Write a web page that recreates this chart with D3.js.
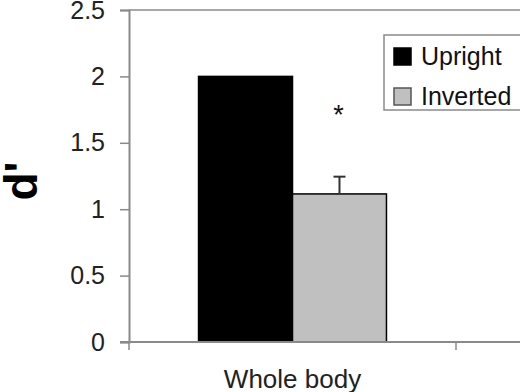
<!DOCTYPE html>
<html><head><meta charset="utf-8">
<script src="https://cdn.jsdelivr.net/npm/d3@7"></script>
<style>body{margin:0;background:#fff}svg{display:block}</style>
</head><body>
<script>
const categories = ["Whole body"];
const seriesNames = ["Upright", "Inverted"];
const upright = [2.0];
const inverted = [1.115];
const invertedErr = [0.13];
const yTicks = [0, 0.5, 1, 1.5, 2, 2.5];
const colors = ["#000000", "#c0c0c0"];

const W = 520, H = 392;
const FONT = "Liberation Sans, Arial, sans-serif";
const svg = d3.select("body").append("svg").attr("width", W).attr("height", H);
const x0 = 129, x1 = 456, yTop = 10, yBot = 342;
const y = d3.scaleLinear().domain([0, 2.5]).range([yBot, yTop]);
const x = d3.scaleBand().domain(categories).range([x0, x1]).paddingInner(0).paddingOuter(0);
const xs = d3.scaleBand().domain(seriesNames).range([0, x.bandwidth()]).paddingOuter(0.74).paddingInner(0);

// top border
svg.append("line").attr("x1", x0).attr("x2", W).attr("y1", y(2.5)).attr("y2", y(2.5))
  .attr("stroke", "#8a8a8a").attr("stroke-width", 1.5);

const yAxis = svg.append("g").attr("transform", `translate(${x0},0)`)
  .call(d3.axisLeft(y).tickValues(yTicks).tickSize(9).tickPadding(15).tickFormat(d3.format("")));
yAxis.select(".domain").attr("stroke", "#8a8a8a").attr("stroke-width", 2);
yAxis.selectAll(".tick line").attr("stroke", "#8a8a8a").attr("stroke-width", 1.5);
yAxis.selectAll("text").attr("font-family", FONT).attr("font-size", 25).attr("fill", "#222");

// bars
const data = [
  {s: "Upright", v: upright[0], c: categories[0]},
  {s: "Inverted", v: inverted[0], c: categories[0], e: invertedErr[0]}
];
svg.selectAll("rect.bar").data(data).enter().append("rect")
  .attr("x", d => x(d.c) + xs(d.s)).attr("width", xs.bandwidth())
  .attr("y", d => y(d.v)).attr("height", d => y(0) - y(d.v))
  .attr("fill", (d, i) => colors[i]).attr("stroke", "#000").attr("stroke-width", 1.5);

// error bar
data.filter(d => d.e).forEach(d => {
  const cx = x(d.c) + xs(d.s) + xs.bandwidth() / 2;
  svg.append("line").attr("x1", cx).attr("x2", cx).attr("y1", y(d.v)).attr("y2", y(d.v + d.e))
    .attr("stroke", "#333").attr("stroke-width", 2);
  svg.append("line").attr("x1", cx - 6).attr("x2", cx + 6).attr("y1", y(d.v + d.e)).attr("y2", y(d.v + d.e))
    .attr("stroke", "#333").attr("stroke-width", 2);
  svg.append("text").attr("x", cx - 1).attr("y", y(d.v) - 70).attr("text-anchor", "middle")
    .attr("font-family", FONT).attr("font-size", 27).attr("fill", "#111").text("*");
});

// x axis
const xAxis = svg.append("g").attr("transform", `translate(0,${yBot})`)
  .call(d3.axisBottom(x).tickSize(0).tickPadding(20));
xAxis.select(".domain").remove();
svg.append("line").attr("x1", x0 - 9).attr("x2", W).attr("y1", yBot).attr("y2", yBot)
  .attr("stroke", "#8a8a8a").attr("stroke-width", 2);
[x0, x1].forEach(px => svg.append("line").attr("x1", px).attr("x2", px).attr("y1", yBot).attr("y2", yBot + 8)
  .attr("stroke", "#8a8a8a").attr("stroke-width", 1.5));
xAxis.selectAll("text").attr("font-family", FONT).attr("font-size", 26)
  .attr("fill", "#222").attr("dy", "0").attr("y", 46);

// y label
svg.append("text").attr("transform", "translate(37,181) rotate(-90)").attr("text-anchor", "middle")
  .attr("font-family", FONT).attr("font-weight", "bold").attr("font-size", 46)
  .attr("fill", "#000").text("d'");

// legend
const lg = svg.append("g");
lg.append("rect").attr("x", 384).attr("y", 35).attr("width", 150).attr("height", 75)
  .attr("fill", "#fff").attr("stroke", "#8a8a8a").attr("stroke-width", 1.5);
seriesNames.forEach((n, i) => {
  const yy = 48 + i * 40;
  lg.append("rect").attr("x", 394).attr("y", yy).attr("width", 17).attr("height", 17)
    .attr("fill", colors[i]).attr("stroke", i ? "#555" : "#000").attr("stroke-width", 1.5);
  lg.append("text").attr("x", 421).attr("y", yy + 17).attr("font-family", FONT)
    .attr("font-size", 25).attr("fill", "#111").text(n);
});
</script>
</body></html>
